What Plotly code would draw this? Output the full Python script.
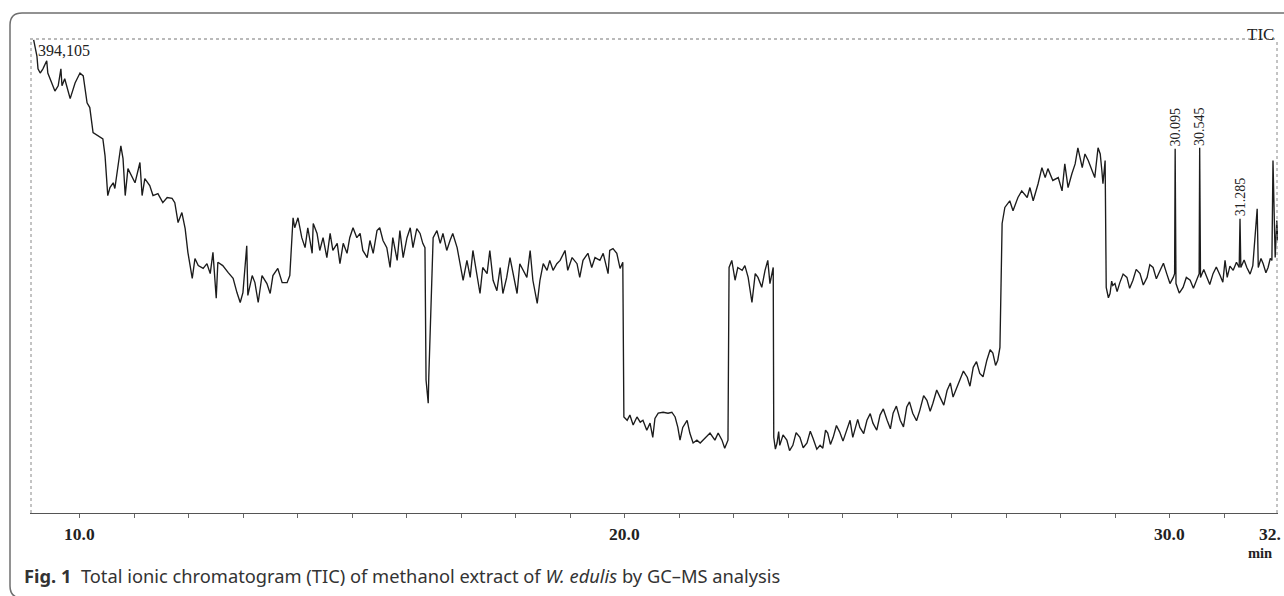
import plotly.graph_objects as go

# Retention time (min) and relative TIC intensity (% of full scale = 394,105 counts),
# read off the chromatogram region by region.
t_early = [9.15, 9.21, 9.23, 9.27, 9.32, 9.39, 9.41, 9.49, 9.54, 9.60, 9.65, 9.67, 9.72, 9.82, 9.91,
           10.00, 10.06, 10.13, 10.18, 10.24, 10.33, 10.42, 10.46, 10.51, 10.55, 10.61, 10.64, 10.70,
           10.75, 10.79, 10.83, 10.88, 10.95, 11.01, 11.10, 11.14, 11.19, 11.28, 11.34, 11.43, 11.52,
           11.60, 11.69, 11.74, 11.80, 11.87, 11.93, 11.98, 12.06, 12.11, 12.17, 12.26, 12.33, 12.39,
           12.44, 12.50, 12.53, 12.62, 12.72, 12.81, 12.88, 12.94, 12.99, 13.06, 13.08, 13.16, 13.21,
           13.27, 13.34, 13.43, 13.49, 13.54, 13.63, 13.71, 13.80, 13.85]
i_early = [100.0, 96.6, 93.9, 93.0, 93.9, 95.6, 93.0, 90.9, 89.2, 90.3, 93.9, 90.3, 91.8, 87.6, 90.9,
           93.0, 92.4, 86.7, 85.7, 80.4, 79.7, 79.1, 75.5, 67.1, 68.8, 69.8, 68.6, 74.1,
           77.6, 74.9, 67.1, 72.8, 71.3, 69.8, 74.1, 67.1, 70.7, 69.2, 67.1, 67.5, 65.6,
           66.7, 66.5, 65.6, 61.4, 63.5, 60.1, 55.1, 49.6, 53.8, 52.3, 51.7, 52.7, 50.6,
           55.1, 45.4, 53.0, 52.3, 50.8, 49.6, 46.6, 44.5, 46.6, 56.5, 46.0, 50.2, 48.7,
           44.5, 50.2, 48.5, 46.4, 50.2, 51.7, 48.7, 48.7, 50.2]

t_plateau = [13.91, 13.94, 14.00, 14.07, 14.13, 14.18, 14.26, 14.28, 14.35, 14.40, 14.46, 14.53, 14.59,
             14.64, 14.72, 14.77, 14.83, 14.90, 14.95, 15.01, 15.08, 15.14, 15.19, 15.27, 15.32, 15.38,
             15.45, 15.50, 15.56, 15.63, 15.69, 15.74, 15.82, 15.87, 15.93, 16.00, 16.06, 16.11, 16.18,
             16.24, 16.29, 16.33, 16.35, 16.39, 16.40, 16.46, 16.48, 16.55, 16.61, 16.66, 16.73, 16.79,
             16.84, 16.92, 16.97, 17.03, 17.10, 17.16, 17.21, 17.28, 17.34, 17.39, 17.47, 17.52, 17.58,
             17.65, 17.71, 17.76, 17.83, 17.89, 17.95, 18.02, 18.07, 18.13, 18.20, 18.26, 18.31, 18.39,
             18.44, 18.50, 18.57, 18.62, 18.68, 18.75, 18.81, 18.90, 18.95, 19.03, 19.12, 19.17, 19.23,
             19.32, 19.39, 19.45, 19.54, 19.60, 19.69, 19.72, 19.78, 19.85, 19.91, 19.96]
i_plateau = [62.4, 60.3, 62.4, 58.2, 56.1, 60.3, 54.9, 61.2, 59.1, 55.5, 58.2, 54.0, 59.1,
             55.5, 57.0, 52.7, 57.0, 54.9, 58.2, 60.3, 58.2, 59.1, 55.5, 54.0, 57.6, 54.9,
             59.7, 60.3, 57.6, 56.1, 51.9, 58.2, 53.4, 59.7, 54.0, 58.2, 60.3, 56.1, 60.1,
             59.1, 57.0, 56.1, 28.1, 23.2, 28.7, 49.2, 58.2, 59.7, 57.0, 59.1, 55.5, 57.6,
             59.1, 56.1, 52.7, 49.2, 53.4, 49.8, 55.5, 50.6, 46.4, 51.9, 50.6, 55.5, 49.2,
             47.0, 51.9, 46.4, 49.8, 54.0, 50.6, 46.4, 52.7, 51.3, 49.8, 55.5, 49.2, 44.3,
             49.2, 52.7, 51.3, 53.4, 51.3, 52.7, 53.4, 55.5, 51.3, 54.0, 52.7, 49.8, 53.4,
             54.9, 51.9, 54.0, 53.4, 54.9, 50.6, 55.5, 55.9, 54.9, 51.7, 53.0]

t_low1 = [19.98, 20.04, 20.09, 20.15, 20.22, 20.28, 20.33, 20.40, 20.46, 20.51, 20.55, 20.61, 20.70,
          20.79, 20.86, 20.92, 20.97, 21.01, 21.06, 21.14, 21.19, 21.25, 21.32, 21.38, 21.47, 21.56,
          21.65, 21.71, 21.78, 21.83, 21.89]
i_low1 = [20.3, 19.6, 20.7, 18.6, 20.3, 19.2, 19.6, 17.5, 19.0, 16.0, 20.0, 21.1, 21.3,
          21.1, 21.3, 20.3, 18.1, 15.4, 18.1, 19.6, 16.9, 14.8, 15.4, 14.8, 15.8, 16.9,
          15.4, 16.9, 15.4, 13.7, 15.4]

t_block = [21.91, 21.96, 22.02, 22.07, 22.15, 22.20, 22.26, 22.33, 22.39, 22.44, 22.51, 22.57, 22.62,
           22.66, 22.72]
i_block = [51.9, 53.4, 49.2, 51.9, 51.3, 52.3, 49.8, 44.5, 50.6, 49.8, 47.7, 51.3, 53.4,
           48.5, 51.9]

t_ramp = [22.73, 22.76, 22.79, 22.82, 22.84, 22.90, 22.97, 23.02, 23.08, 23.14, 23.21, 23.27, 23.34,
          23.40, 23.45, 23.52, 23.58, 23.63, 23.68, 23.72, 23.77, 23.82, 23.88, 23.94, 24.00, 24.07,
          24.13, 24.18, 24.22, 24.27, 24.31, 24.38, 24.44, 24.50, 24.55, 24.62, 24.68, 24.74, 24.81,
          24.87, 24.92, 24.98, 25.05, 25.11, 25.17, 25.22, 25.28, 25.35, 25.41, 25.48, 25.54, 25.60,
          25.65, 25.72, 25.78, 25.85, 25.91, 25.97, 26.02, 26.08, 26.15, 26.21, 26.28, 26.33, 26.39,
          26.45, 26.51, 26.57, 26.64, 26.70, 26.75, 26.80, 26.84, 26.88]
i_ramp = [16.0, 13.5, 14.8, 17.2, 14.3, 16.5, 15.4, 13.2, 14.3, 17.0, 16.0, 13.8, 14.8,
          17.3, 15.8, 13.5, 14.3, 13.7, 17.5, 16.9, 14.5, 16.0, 18.5, 17.1, 15.2, 17.5,
          19.6, 16.0, 17.5, 19.8, 18.1, 16.8, 19.6, 21.0, 19.0, 17.5, 20.7, 22.0, 19.6,
          17.8, 21.1, 22.6, 19.6, 18.2, 22.4, 23.5, 21.1, 19.5, 21.7, 24.8, 23.8, 21.5,
          23.2, 26.0, 24.5, 22.8, 25.9, 27.5, 24.5, 26.2, 28.1, 30.0, 28.7, 26.8, 30.8,
          32.0, 29.5, 28.8, 32.3, 34.5, 33.8, 31.2, 32.3, 35.0]

t_high = [26.92, 26.97, 27.06, 27.12, 27.21, 27.28, 27.38, 27.43, 27.49, 27.58, 27.65, 27.71, 27.76,
          27.85, 27.95, 28.02, 28.07, 28.13, 28.20, 28.26, 28.31, 28.39, 28.44, 28.50, 28.57, 28.62,
          28.68, 28.72, 28.75, 28.77, 28.81]
i_high = [61.2, 64.6, 66.0, 63.9, 66.7, 68.1, 66.7, 68.8, 66.0, 69.6, 73.0, 70.9, 72.8,
          70.3, 70.9, 68.1, 73.8, 68.8, 71.7, 73.8, 77.2, 73.0, 75.9, 74.5, 72.4, 70.9,
          77.2, 75.9, 72.4, 69.6, 74.5]

t_late = [28.83, 28.87, 28.90, 28.93, 28.95, 28.99, 29.03, 29.08, 29.14, 29.21, 29.26, 29.32, 29.38,
          29.45, 29.51, 29.58, 29.63, 29.69, 29.75, 29.82, 29.88, 29.94, 30.00, 30.06, 30.085,
          30.095, 30.11, 30.17, 30.24, 30.30, 30.37, 30.43, 30.50, 30.535, 30.545, 30.56, 30.62,
          30.68, 30.73, 30.79, 30.85, 30.92, 30.97, 31.01, 31.05, 31.10, 31.16, 31.22, 31.27,
          31.285, 31.30, 31.36, 31.41, 31.47, 31.52, 31.60, 31.62, 31.67, 31.71, 31.76, 31.80,
          31.84, 31.87, 31.89, 31.93, 31.96, 31.98]
i_late = [47.7, 45.5, 46.4, 49.0, 48.1, 48.5, 46.8, 48.7, 50.5, 49.8, 47.5, 49.2, 51.5,
          50.6, 48.2, 49.8, 52.5, 51.9, 49.5, 51.3, 52.8, 50.6, 48.5, 49.8, 50.6,
          77.0, 48.5, 46.5, 47.7, 49.8, 49.2, 47.5, 49.8, 50.6, 77.2, 49.8, 51.5,
          49.6, 48.3, 50.6, 52.0, 50.2, 48.8, 53.4, 49.8, 52.2, 51.3, 53.0, 51.9,
          62.2, 51.9, 53.5, 51.9, 50.5, 52.3, 64.3, 51.9, 53.8, 52.7, 50.8, 51.9,
          53.8, 53.4, 74.5, 54.0, 61.8, 57.6]

peak_times = [30.095, 30.545, 31.285]
peak_heights = [77.0, 77.2, 62.2]
peak_labels = ["30.095", "30.545", "31.285"]

tick_positions = list(range(10, 32))
axis_labels = {10: "10.0", 20: "20.0", 30: "30.0"}
max_count_label = "394,105"

time_min = t_early + t_plateau + t_low1 + t_block + t_ramp + t_high + t_late
intensity_pct = i_early + i_plateau + i_low1 + i_block + i_ramp + i_high + i_late
assert len(time_min) == len(intensity_pct)

W, H = 1284, 596
L, R, T, B = 30, 6, 39, 83
PW, PH = W - L - R, H - T - B


def px(xp):
    return (xp - L) / PW


def py(yp):
    return (H - B - yp) / PH


fig = go.Figure()
fig.add_trace(go.Scatter(
    x=time_min, y=intensity_pct, mode="lines",
    line=dict(color="#1c1c1c", width=1.35), hoverinfo="x+y", showlegend=False,
))

serif = "Liberation Serif, Times New Roman, serif"
ann = []
for t, lab in axis_labels.items():
    ann.append(dict(x=t, y=py(534), xref="x", yref="paper", text="<b>" + lab + "</b>",
                    showarrow=False, xanchor="center", yanchor="middle",
                    font=dict(family=serif, size=17.5, color="#222")))
ann.append(dict(x=px(1283), y=py(534), xref="paper", yref="paper", text="<b>32.</b>",
                showarrow=False, xanchor="right", yanchor="middle",
                font=dict(family=serif, size=17.5, color="#222")))
ann.append(dict(x=px(1274), y=py(553), xref="paper", yref="paper", text="<b>min</b>",
                showarrow=False, xanchor="right", yanchor="middle",
                font=dict(family=serif, size=14.5, color="#222")))
ann.append(dict(x=px(36), y=py(50), xref="paper", yref="paper", text=max_count_label,
                showarrow=False, xanchor="left", yanchor="middle",
                font=dict(family=serif, size=16, color="#222")))
ann.append(dict(x=px(1276), y=py(34), xref="paper", yref="paper", text="TIC",
                showarrow=False, xanchor="right", yanchor="middle",
                font=dict(family=serif, size=17, color="#222")))
for t, h, lab in zip(peak_times, peak_heights, peak_labels):
    ann.append(dict(x=t, y=h, xref="x", yref="y", text=lab, showarrow=False,
                    textangle=-90, xanchor="center", yanchor="bottom",
                    font=dict(family=serif, size=14, color="#222")))
ann.append(dict(x=px(22), y=py(575), xref="paper", yref="paper",
                text="<b>Fig. 1</b>  Total ionic chromatogram (TIC) of methanol extract of <i>W. edulis</i> by GC–MS analysis",
                showarrow=False, xanchor="left", yanchor="middle",
                font=dict(family="Noto Sans, Open Sans, sans-serif", size=18.3, color="#333")))

shapes = [
    dict(type="path", xref="paper", yref="paper",
         path=f"M {px(1295)},{py(13)} L {px(22)},{py(13)} Q {px(10)},{py(13)} {px(10)},{py(25)} "
              f"L {px(10)},{py(586)} Q {px(10)},{py(598)} {px(22)},{py(598)}",
         line=dict(color="#6f6f6f", width=1.5)),
    dict(type="line", xref="paper", yref="paper", x0=0, x1=1, y0=1, y1=1,
         line=dict(color="#777", width=1.2, dash="dot")),
    dict(type="line", xref="paper", yref="paper", x0=px(31), x1=px(31), y0=0, y1=1,
         line=dict(color="#888", width=1, dash="dot")),
    dict(type="line", xref="paper", yref="paper", x0=px(1277), x1=px(1277), y0=0, y1=1,
         line=dict(color="#888", width=1, dash="dot")),
]

fig.update_layout(
    width=W, height=H, margin=dict(l=L, r=R, t=T, b=B),
    paper_bgcolor="white", plot_bgcolor="white",
    annotations=ann, shapes=shapes, showlegend=False,
    xaxis=dict(range=[9.083, 31.982], showgrid=False, zeroline=False,
               showline=True, linecolor="#555", linewidth=1.2,
               ticks="outside", ticklen=4, tickcolor="#666", tickwidth=1,
               tickvals=tick_positions, ticktext=["" for _ in tick_positions]),
    yaxis=dict(range=[0, 100.2], visible=False, showgrid=False, zeroline=False),
)

fig.write_html("out.html", config={"displayModeBar": False},
               post_script="document.body.style.margin='0';document.body.style.overflow='hidden';")
